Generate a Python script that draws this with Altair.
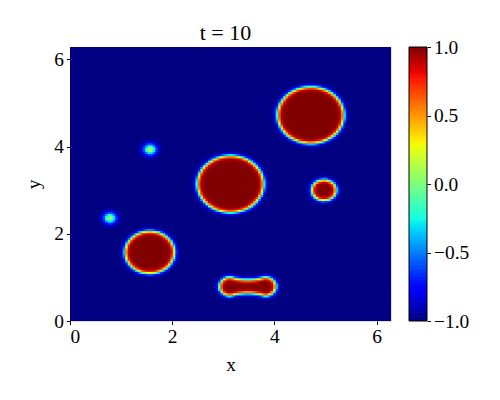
import numpy as np
import pandas as pd
import altair as alt

alt.data_transformers.disable_max_rows()

# ---- texts / ticks ----
title_text = "t = 10"
x_title = "x"
y_title = "y"
axis_ticks = [0, 2, 4, 6]
cbar_ticks = [-1.0, -0.5, 0.0, 0.5, 1.0]

# ---- droplets (centre x, centre y, radius of the phi = 0 contour) ----
drop_x = [4.71, 3.14, 4.97, 1.56]
drop_y = [4.72, 3.14, 3.00, 1.575]
drop_r = [0.65, 0.65, 0.24, 0.485]

# merging pair (peanut shape): end centres, end radius, neck narrowing
pair_x = [3.14, 3.815]
pair_y = [0.79, 0.79]
pair_r = 0.215
pair_neck = 0.06

# faint nuclei (peak value of the field)
dot_x = [1.566, 0.78]
dot_y = [3.935, 2.36]
dot_peak = [0.15, 0.1]
dot_width = [0.12, 0.12]

interface_w = 0.05
n_grid = 128
domain_max = 2 * np.pi

# jet colormap stops
jet_pos = [0.0, 0.11, 0.125, 0.34, 0.35, 0.375, 0.64, 0.65, 0.66, 0.89, 0.91, 1.0]
jet_colors = ["#000080", "#0000ff", "#0000ff", "#00dbff", "#00e6f7", "#15ffe2",
              "#eeff08", "#f7f500", "#ffec00", "#ff1300", "#e80000", "#800000"]
jet_domain = [-1 + 2 * p for p in jet_pos]

# ---- build the field ----
h = domain_max / n_grid
c = (np.arange(n_grid) + 0.5) * h
X, Y = np.meshgrid(c, c)
d = np.full(X.shape, np.inf)
for cx, cy, r in zip(drop_x, drop_y, drop_r):
    d = np.minimum(d, np.hypot(X - cx, Y - cy) - r)
# capsule for the merging pair
sx, sy = pair_x[1] - pair_x[0], pair_y[1] - pair_y[0]
t = np.clip(((X - pair_x[0]) * sx + (Y - pair_y[0]) * sy) / (sx * sx + sy * sy), 0, 1)
dist = np.hypot(X - (pair_x[0] + t * sx), Y - (pair_y[0] + t * sy))
d = np.minimum(d, dist - (pair_r - pair_neck * 4 * t * (1 - t)))
phi = np.tanh(-d / interface_w)
for cx, cy, pk, s in zip(dot_x, dot_y, dot_peak, dot_width):
    phi = np.maximum(phi, -1 + (pk + 1) * np.exp(-((X - cx) ** 2 + (Y - cy) ** 2) / s ** 2))

ii, jj = np.meshgrid(np.arange(n_grid), np.arange(n_grid))
OV = 1.35  # slight overlap of cells to avoid anti-aliasing seams
df = pd.DataFrame({
    "x": (ii.ravel() * h).round(4),
    "x2": ((ii.ravel() + OV) * h).round(4),
    "y": (jj.ravel() * h).round(4),
    "y2": ((jj.ravel() + OV) * h).round(4),
    "phi": phi.ravel().round(3),
})

n_strip = 200
edges = np.linspace(-1, 1, n_strip + 1)
step = edges[1] - edges[0]
cb = pd.DataFrame({"v0": edges[:-1], "v1": np.minimum(edges[:-1] + step * 1.5, 1.0),
                   "vm": (edges[:-1] + edges[1:]) / 2})

FONT = "Liberation Serif"
FS = 19.4
W, H = 321, 274
CB_L, CB_R = 339, 357

cscale = alt.Scale(domain=jet_domain, range=jet_colors, interpolate="rgb", clamp=True)
xy_scale = alt.Scale(domain=[0, domain_max], nice=False, zero=False)

common_axis = dict(
    tickSize=3.5, tickColor="black", tickWidth=1, domain=False, grid=False,
    labelFont=FONT, labelFontSize=FS, labelColor="black", labelPadding=3,
    titleFont=FONT, titleFontSize=FS, titleFontWeight="normal", titleColor="black",
)

heat = alt.Chart(df).mark_rect(clip=True).encode(
    x=alt.X("x:Q", scale=xy_scale,
            axis=alt.Axis(values=axis_ticks, format="d", title=x_title, titlePadding=10, **common_axis)),
    x2="x2:Q",
    y=alt.Y("y:Q", scale=xy_scale,
            axis=alt.Axis(values=axis_ticks, format="d", title=y_title, titlePadding=10, **common_axis)),
    y2="y2:Q",
    color=alt.Color("phi:Q", scale=cscale, legend=None),
)

cbar = alt.Chart(cb).mark_rect().encode(
    x=alt.value(CB_L), x2=alt.value(CB_R),
    y=alt.Y("v0:Q", scale=alt.Scale(domain=[-1, 1], nice=False, zero=False),
            axis=alt.Axis(orient="right", offset=CB_R - W, values=cbar_ticks, format=".1f",
                          title=None, **common_axis)),
    y2="v1:Q",
    color=alt.Color("vm:Q", scale=cscale, legend=None),
)

frame = alt.Chart(pd.DataFrame({"k": [0]})).mark_rect(filled=False, stroke="black", strokeWidth=1).encode(
    x=alt.value(CB_L), x2=alt.value(CB_R), y=alt.value(0), y2=alt.value(H)
)

chart = alt.layer(heat, cbar, frame).resolve_scale(y="independent").properties(
    width=W, height=H,
    title=alt.TitleParams(title_text, font=FONT, fontSize=22, fontWeight="normal", color="black",
                          offset=7, frame="group", dy=15, dx=-5),
    autosize=alt.AutoSizeParams(type="none"),
    padding={"left": 62, "top": 39, "right": 100, "bottom": 70},
).configure_view(stroke="black", strokeWidth=1).configure(background="white")

chart.save("out.html", embed_options={"renderer": "svg", "actions": False})
